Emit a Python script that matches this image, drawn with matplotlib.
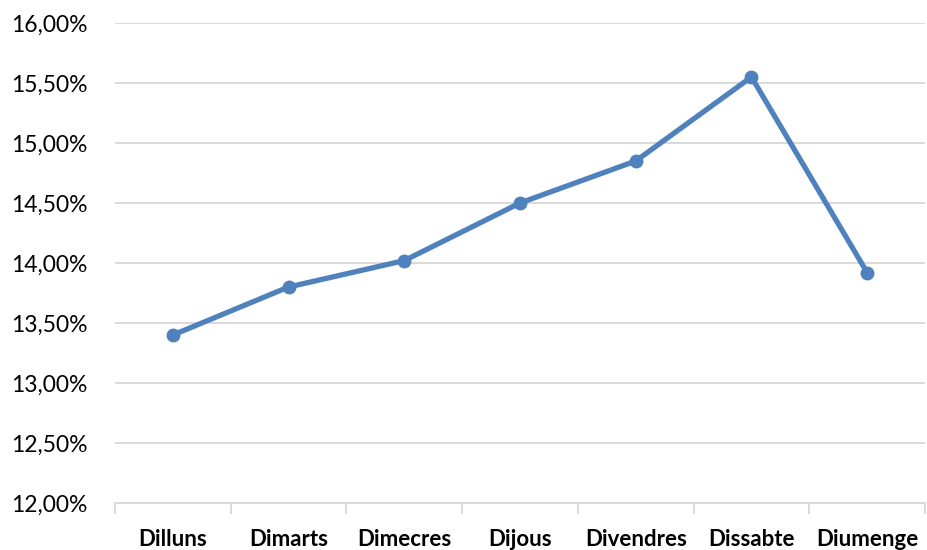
import matplotlib
matplotlib.use("Agg")
import matplotlib.pyplot as plt
from matplotlib.ticker import FuncFormatter, MultipleLocator

categories = ["Dilluns", "Dimarts", "Dimecres", "Dijous", "Divendres", "Dissabte", "Diumenge"]
values = [13.40, 13.80, 14.02, 14.50, 14.85, 15.55, 13.92]

plt.rcParams['font.family'] = ['Lato', 'DejaVu Sans']

fig = plt.figure(figsize=(9.28, 5.5), dpi=100)
ax = fig.add_axes([115/928, 47/550, 810/928, 480/550])

x = list(range(len(categories)))
ax.plot(x, values, color='#4F81BD', linewidth=3.8, marker='o', markersize=9,
        solid_capstyle='round', zorder=3)

ax.set_xlim(-0.5, len(categories) - 0.5)
ax.set_ylim(12, 16)
ax.yaxis.set_major_locator(MultipleLocator(0.5))
ax.yaxis.set_major_formatter(FuncFormatter(lambda v, p: f"{v:.2f}".replace('.', ',') + '%'))
ax.grid(axis='y', color='#D9D9D9', linewidth=1.4)
ax.set_axisbelow(True)

for s in ['top', 'right', 'left']:
    ax.spines[s].set_visible(False)
ax.spines['bottom'].set_color('#D9D9D9')
ax.spines['bottom'].set_linewidth(1.4)

ax.set_xticks(x)
ax.set_xticklabels(categories, fontsize=16, fontweight='bold')
ax.set_xticks([i - 0.5 for i in range(len(categories) + 1)], minor=True)
ax.tick_params(axis='x', which='major', length=0, pad=19)
ax.tick_params(axis='x', which='minor', length=8, width=1.4, color='#D9D9D9')
ax.tick_params(axis='y', length=0, labelsize=16.5, pad=20)

fig.savefig('out.png', dpi=100)
